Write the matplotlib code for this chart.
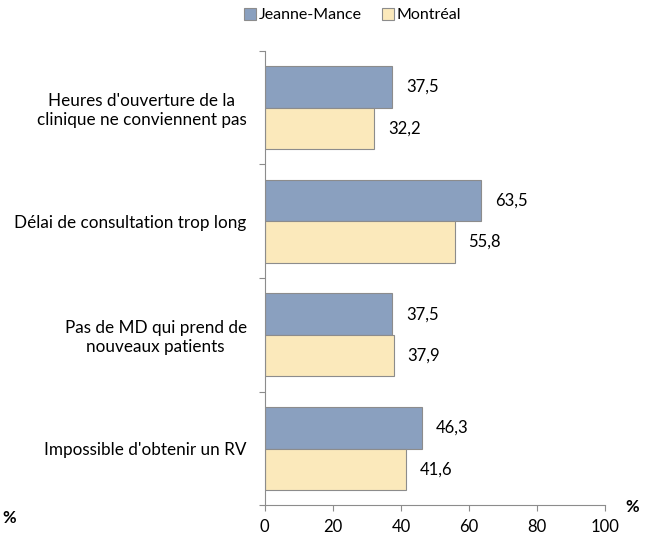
import matplotlib
matplotlib.use("Agg")
import matplotlib.pyplot as plt
import numpy as np

plt.rcParams['font.family'] = ['Lato', 'DejaVu Sans']

# donnees
categories = ["Heures d'ouverture de la\nclinique ne conviennent pas",
              "Délai de consultation trop long",
              "Pas de MD qui prend de\nnouveaux patients",
              "Impossible d'obtenir un RV"]
jeanne_mance = [37.5, 63.5, 37.5, 46.3]
montreal = [32.2, 55.8, 37.9, 41.6]
xticks = [0, 20, 40, 60, 80, 100]

fig = plt.figure(figsize=(6.57, 5.40), dpi=100)
ax = fig.add_axes([0.403, 0.064, 0.518, 0.842])

n = len(categories)
y = np.arange(n)[::-1]   # premier en haut
h = 0.365

b1 = ax.barh(y + h/2, jeanne_mance, height=h, color='#8aa0bf', edgecolor='#8c8c8c', linewidth=0.8, label='Jeanne-Mance')
b2 = ax.barh(y - h/2, montreal, height=h, color='#fbe9bb', edgecolor='#8c8c8c', linewidth=0.8, label='Montréal')

for bars, vals in [(b1, jeanne_mance), (b2, montreal)]:
    for rect, v in zip(bars, vals):
        ax.annotate(f"{v:.1f}".replace('.', ','), (v, rect.get_y() + rect.get_height()/2),
                    xytext=(10, 0), textcoords='offset points', va='center', ha='left', fontsize=12)

ax.set_xlim(0, 100)
ax.set_ylim(-0.5, n - 0.5)
ax.set_xticks(xticks)
ax.set_xticklabels([str(t) for t in xticks], fontsize=12)

# ticks aux limites des groupes, etiquettes au centre
ax.set_yticks(np.arange(n + 1) - 0.5)
ax.set_yticklabels([])
ax.set_yticks(y, minor=True)
ax.set_yticklabels(categories, minor=True, fontsize=12.3, multialignment='center')
ax.tick_params(axis='y', which='minor', length=0, pad=13)
ax.tick_params(axis='y', which='major', length=4, color='#8c8c8c')
ax.tick_params(axis='x', length=4, color='#8c8c8c', pad=6)

for s in ['top', 'right']:
    ax.spines[s].set_visible(False)
for s in ['left', 'bottom']:
    ax.spines[s].set_color('#8c8c8c')

fig.text(0.962, 0.062, '%', fontsize=12, fontweight='bold', ha='center', va='center')
fig.text(0.014, 0.040, '%', fontsize=12, fontweight='bold', ha='center', va='center')

fig.legend(handles=[b1, b2], loc='center', bbox_to_anchor=(0.537, 0.972), ncol=2, frameon=False,
           fontsize=11.5, handlelength=0.75, handleheight=0.75, handletextpad=0.15, columnspacing=1.3)

fig.savefig('out.png', dpi=100)
